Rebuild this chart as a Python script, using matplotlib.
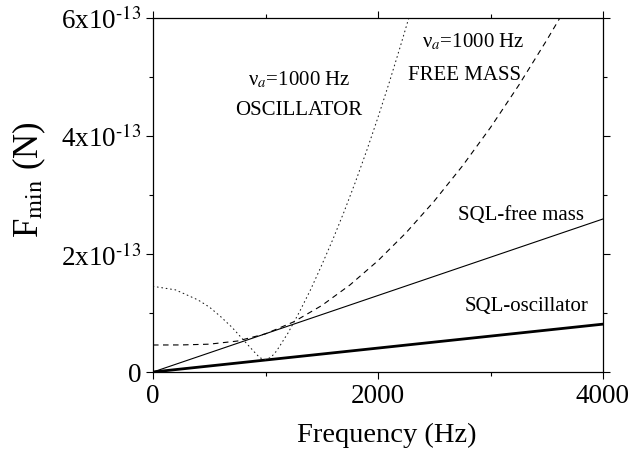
import matplotlib
matplotlib.use("Agg")
import matplotlib.pyplot as plt
from matplotlib.ticker import FixedLocator, FixedFormatter

plt.rcParams['font.family'] = 'serif'
plt.rcParams['font.serif'] = ['Liberation Serif', 'DejaVu Serif']
plt.rcParams['mathtext.fontset'] = 'stix'

# ---- data (force values in units of 1e-13 N) ----
sql_freq = [0, 4000]
sql_free_mass = [0.0, 2.59]
sql_oscillator = [0.0, 0.81]

fm_freq = [0, 250, 500, 750, 1000, 1250, 1500, 1750, 2000, 2250, 2500,
           2750, 3000, 3250, 3500, 3700]
fm_val = [0.457, 0.458, 0.471, 0.524, 0.646, 0.848, 1.125, 1.472, 1.884,
          2.358, 2.893, 3.486, 4.138, 4.850, 5.617, 6.26]

osc_freq = [0, 200, 400, 500, 600, 700, 800, 900, 950, 1000, 1050, 1100,
            1200, 1300, 1400, 1500, 1600, 1700, 1800, 1900, 2000, 2100,
            2200, 2300]
osc_val = [1.45, 1.39, 1.22, 1.10, 0.94, 0.76, 0.55, 0.34, 0.24, 0.21, 0.25,
           0.36, 0.66, 1.01, 1.39, 1.81, 2.25, 2.72, 3.22, 3.75, 4.31, 4.90,
           5.52, 6.16]

x_major = [0, 2000, 4000]
x_minor = [1000, 3000]
y_major = [0, 2, 4, 6]
y_minor = [1, 3, 5]
y_labels = ["0", r"2x10$^{\text{-13}}$", r"4x10$^{\text{-13}}$", r"6x10$^{\text{-13}}$"]

fig = plt.figure(figsize=(6.31, 4.52), dpi=100)
ax = fig.add_axes([153/631, 1 - 373/452, 450/631, 354.5/452])

ax.plot(sql_freq, sql_free_mass, color='black', lw=0.8)
ax.plot(sql_freq, sql_oscillator, color='black', lw=2.0)
ax.plot(fm_freq, fm_val, color='black', lw=0.8, linestyle=(0, (5, 4)))
ax.plot(osc_freq, osc_val, color='#222222', lw=0.8, linestyle=(0, (0.7, 3.3)),
        dash_capstyle='round')

ax.set_xlim(0, 4000)
ax.set_ylim(0, 6)

ax.xaxis.set_major_locator(FixedLocator(x_major))
ax.xaxis.set_minor_locator(FixedLocator(x_minor))
ax.yaxis.set_major_locator(FixedLocator(y_major))
ax.yaxis.set_minor_locator(FixedLocator(y_minor))
ax.yaxis.set_major_formatter(FixedFormatter(y_labels))
ax.tick_params(which='both', direction='out', top=True, right=True,
               labelsize=19.5, width=0.8, pad=3)
ax.tick_params(which='major', length=5)
ax.tick_params(which='minor', length=3)
for s in ax.spines.values():
    s.set_linewidth(0.9)

ax.set_xlabel("Frequency (Hz)", fontsize=20.5)
ax.xaxis.set_label_coords((387 - 153) / 450, -0.14)
ax.set_ylabel(r"F$_{\rm min}$ (N)", fontsize=25)
ax.yaxis.set_label_coords((48 - 153) / 450, 0.545)

tfs = 15
ax.text(1298, 4.96, "\u03bd$_{a}$=1000 Hz", fontsize=tfs, ha='center', va='center')
ax.text(1298, 4.45, "OSCILLATOR", fontsize=tfs, ha='center', va='center')
ax.text(2844, 5.60, "\u03bd$_{a}$=1000 Hz", fontsize=tfs, ha='center', va='center')
ax.text(2773, 5.04, "FREE MASS", fontsize=tfs, ha='center', va='center')
ax.text(3271, 2.67, "SQL-free mass", fontsize=tfs, ha='center', va='center')
ax.text(3322, 1.13, "SQL-oscillator", fontsize=tfs, ha='center', va='center')

fig.savefig("out.png", dpi=100)
